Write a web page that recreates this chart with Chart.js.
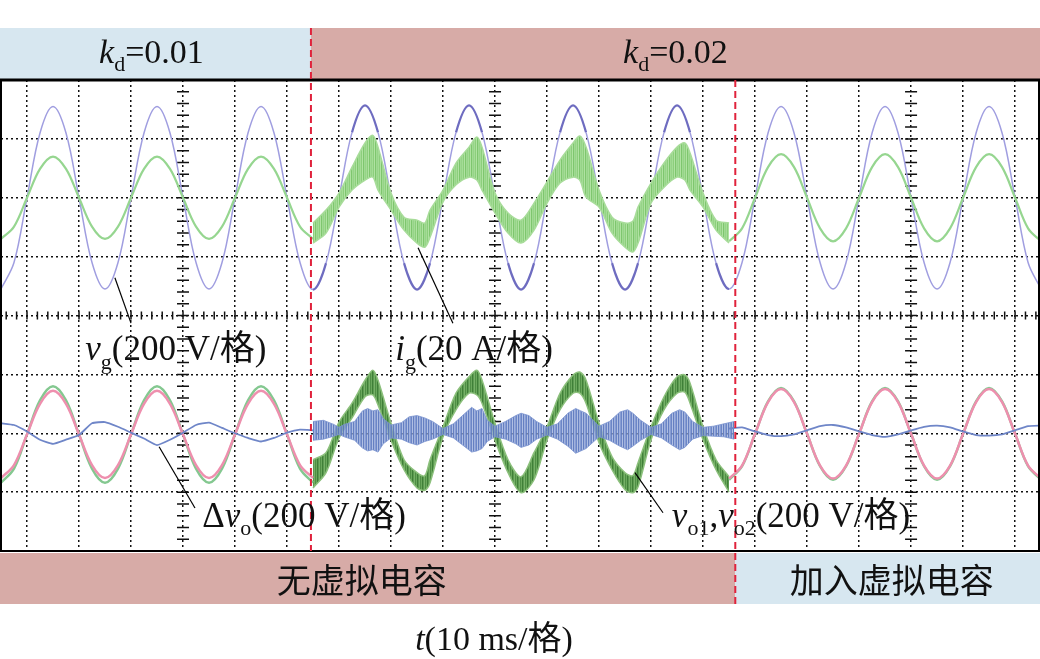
<!DOCTYPE html>
<html lang="zh">
<head>
<meta charset="utf-8">
<title>kd / virtual capacitor scope capture</title>
<script src="https://cdn.jsdelivr.net/npm/chart.js@4.4.1/dist/chart.umd.min.js"></script>
<style>
  html, body { margin: 0; padding: 0; background: #fff; }
  canvas { display: block; }
</style>
</head>
<body>
<canvas id="scope" width="1040" height="659"></canvas>
<script>
// all values in scope divisions, time in ms (10 ms / division)
// top channel is centred on +2 div, bottom channel on -2 div

const tSine = [
  -5, -2.5, 0, 2.5, 5, 7.5, 10, 12.5,
  15, 17.5, 20, 22.5, 25, 27.5, 30, 32.5,
  35, 37.5, 40, 42.5, 45, 47.5, 50, 52.5,
  55, 57.5, 60, 62.5, 65, 67.5, 70, 72.5,
  75, 77.5, 80, 82.5, 85, 87.5, 90, 92.5,
  95, 97.5, 100, 102.5, 105, 107.5, 110, 112.5,
  115, 117.5, 120, 122.5, 125, 127.5, 130, 132.5,
  135, 137.5, 140, 142.5, 145, 147.5, 150, 152.5,
  155, 157.5, 160, 162.5, 165, 167.5, 170, 172.5,
  175, 177.5, 180, 182.5, 185, 187.5, 190, 192.5,
  195
];

// grid voltage vg (200 V/div)
const vg = [
  0.45, 0.90, 2.00, 3.10, 3.55, 3.10, 2.00, 0.90,
  0.45, 0.90, 2.00, 3.10, 3.55, 3.10, 2.00, 0.90,
  0.45, 0.90, 2.00, 3.10, 3.55, 3.10, 2.00, 0.90,
  0.44, 0.89, 2.00, 3.11, 3.57, 3.11, 2.00, 0.89,
  0.44, 0.89, 2.00, 3.11, 3.57, 3.11, 2.00, 0.89,
  0.44, 0.89, 2.00, 3.11, 3.57, 3.11, 2.00, 0.89,
  0.44, 0.89, 2.00, 3.11, 3.57, 3.11, 2.00, 0.89,
  0.45, 0.90, 2.00, 3.10, 3.55, 3.10, 2.00, 0.90,
  0.45, 0.90, 2.00, 3.10, 3.55, 3.10, 2.00, 0.90,
  0.45, 0.90, 2.00, 3.10, 3.55, 3.10, 2.00, 0.90,
  0.45
];

// grid current ig (20 A/div), clean parts only
const ig = [
  1.30, 1.51, 2.00, 2.49, 2.70, 2.49, 2.00, 1.51,
  1.30, 1.51, 2.00, 2.49, 2.70, 2.49, 2.00, 1.51,
  1.30, 1.51, 2.00, 2.49, 2.70, 2.49, 2.00, 1.51,
  1.30, null, null, null, null, null, null, null,
  null, null, null, null, null, null, null, null,
  null, null, null, null, null, null, null, null,
  null, null, null, null, null, null, null, null,
  1.26, 1.48, 2.00, 2.52, 2.74, 2.52, 2.00, 1.48,
  1.26, 1.48, 2.00, 2.52, 2.74, 2.52, 2.00, 1.48,
  1.26, 1.48, 2.00, 2.52, 2.74, 2.52, 2.00, 1.48,
  1.26
];

// output voltages vo1 (pink) and vo2 (green), clean parts only
const vo1 = [
  -2.76, -2.54, -2.02, -1.50, -1.28, -1.50, -2.02, -2.54,
  -2.76, -2.54, -2.02, -1.50, -1.28, -1.50, -2.02, -2.54,
  -2.76, -2.54, -2.02, -1.50, -1.28, -1.50, -2.02, -2.54,
  -2.76, null, null, null, null, null, null, null,
  null, null, null, null, null, null, null, null,
  null, null, null, null, null, null, null, null,
  null, null, null, null, null, null, null, null,
  -2.77, -2.55, -2.01, -1.47, -1.25, -1.47, -2.01, -2.55,
  -2.77, -2.55, -2.01, -1.47, -1.25, -1.47, -2.01, -2.55,
  -2.77, -2.55, -2.01, -1.47, -1.25, -1.47, -2.01, -2.55,
  -2.77
];
const vo2 = [
  -2.84, -2.60, -2.02, -1.44, -1.20, -1.44, -2.02, -2.60,
  -2.84, -2.60, -2.02, -1.44, -1.20, -1.44, -2.02, -2.60,
  -2.84, -2.60, -2.02, -1.44, -1.20, -1.44, -2.02, -2.60,
  -2.84, null, null, null, null, null, null, null,
  null, null, null, null, null, null, null, null,
  null, null, null, null, null, null, null, null,
  null, null, null, null, null, null, null, null,
  -2.79, -2.56, -2.01, -1.46, -1.23, -1.46, -2.01, -2.56,
  -2.79, -2.56, -2.01, -1.46, -1.23, -1.46, -2.01, -2.56,
  -2.79, -2.56, -2.01, -1.46, -1.23, -1.46, -2.01, -2.56,
  -2.79
];

// difference voltage Δvo, clean parts only
const dvo = [
  -1.83, -1.86, -1.97, -2.11, -2.18, -2.11, -2.03, -1.83,
  -1.81, -1.89, -1.99, -2.09, -2.20, -2.11, -1.99, -1.86,
  -1.82, -1.91, -2.00, -2.08, -2.14, -2.08, -1.99, -1.94,
  -1.95, null, null, null, null, null, null, null,
  null, null, null, null, null, null, null, null,
  null, null, null, null, null, null, null, null,
  null, null, null, null, null, null, null, null,
  -1.92, -1.90, -1.97, -2.03, -2.05, -2.02, -1.95, -1.88,
  -1.86, -1.90, -1.97, -2.03, -2.06, -2.02, -1.95, -1.89,
  -1.87, -1.90, -1.97, -2.03, -2.04, -2.02, -1.95, -1.88,
  -1.87
];

// kd = 0.02 without virtual capacitor: ripple envelopes
const tBand = [
  55, 57.5, 60, 62.5, 65, 66.5, 67.5, 70, 72.5, 75,
  76.5, 77.5, 80, 82.5, 85, 86.5, 87.5, 90, 92.5, 95,
  97.5, 100, 102.5, 105, 106.3, 107.5, 110, 112.5, 115, 116.5,
  117.5, 120, 122.5, 125, 126.5, 127.5, 130, 132.5, 135
];
const igUpper = [
  1.57, 1.79, 2.08, 2.52, 2.93, 3.06, 2.86, 2.08, 1.67, 1.62,
  1.57, 1.79, 2.13, 2.59, 2.86, 3.03, 2.86, 2.08, 1.74, 1.62,
  1.91, 2.27, 2.64, 2.93, 3.05, 2.86, 2.13, 1.67, 1.57, 1.60,
  1.84, 2.25, 2.59, 2.86, 2.93, 2.76, 2.08, 1.62, 1.57
];
const igLower = [
  1.23, 1.40, 1.84, 2.13, 2.30, 2.35, 2.13, 1.79, 1.45, 1.23,
  1.16, 1.33, 1.93, 2.22, 2.35, 2.30, 2.13, 1.74, 1.40, 1.23,
  1.45, 1.91, 2.25, 2.35, 2.30, 2.01, 1.84, 1.40, 1.16, 1.08,
  1.23, 1.91, 2.18, 2.35, 2.30, 2.13, 1.84, 1.45, 1.23
];
const voUpper = [
  -2.45, -2.33, -1.81, -1.49, -1.10, -0.93, -1.10, -1.83, -2.45, -2.67,
  -2.72, -2.45, -1.89, -1.32, -1.04, -0.93, -1.10, -1.83, -2.45, -2.74,
  -2.33, -1.89, -1.32, -1.01, -0.96, -1.10, -1.83, -2.40, -2.67, -2.72,
  -2.50, -1.89, -1.38, -1.04, -1.01, -1.15, -1.89, -2.45, -2.74
];
const voLower = [
  -2.93, -2.67, -2.08, -1.74, -1.38, -1.35, -1.52, -2.12, -2.62, -2.93,
  -2.97, -2.84, -2.06, -1.60, -1.32, -1.35, -1.49, -2.12, -2.67, -3.01,
  -2.79, -2.11, -1.60, -1.32, -1.32, -1.49, -2.16, -2.62, -2.96, -3.01,
  -2.91, -2.11, -1.60, -1.32, -1.30, -1.49, -2.11, -2.62, -3.00
];

const tNoise = [
  55, 57, 59, 60, 61, 63, 64.5, 65.5, 66.5, 67.5,
  68.5, 70, 72, 73.5, 75, 76.5, 78, 80, 82, 84.5,
  85.5, 86.5, 87.5, 88.5, 90, 92, 94, 95, 96.5, 98,
  100, 102, 104, 105.5, 106.5, 107.5, 110, 112, 114, 115.5,
  116.5, 118, 120, 122, 124, 125.5, 126.5, 128, 130, 132,
  134, 136
];
const dvUpper = [
  -1.80, -1.78, -1.85, -1.90, -1.85, -1.80, -1.62, -1.58, -1.62, -1.60,
  -1.75, -1.86, -1.82, -1.72, -1.70, -1.74, -1.80, -1.92, -1.84, -1.64,
  -1.56, -1.62, -1.58, -1.78, -1.88, -1.80, -1.70, -1.66, -1.70, -1.80,
  -1.90, -1.84, -1.66, -1.58, -1.62, -1.66, -1.88, -1.80, -1.64, -1.60,
  -1.66, -1.78, -1.90, -1.84, -1.66, -1.60, -1.64, -1.80, -1.90, -1.88,
  -1.84, -1.80
];
const dvLower = [
  -2.12, -2.10, -2.05, -2.02, -2.06, -2.12, -2.25, -2.30, -2.28, -2.32,
  -2.18, -2.08, -2.10, -2.16, -2.20, -2.14, -2.10, -2.02, -2.08, -2.25,
  -2.32, -2.30, -2.26, -2.14, -2.06, -2.10, -2.18, -2.24, -2.20, -2.10,
  -2.03, -2.10, -2.22, -2.34, -2.30, -2.26, -2.06, -2.12, -2.22, -2.28,
  -2.22, -2.12, -2.02, -2.08, -2.20, -2.28, -2.24, -2.10, -2.04, -2.05,
  -2.06, -2.10
];

// grid lines, tick axes and the two switching instants
const gridT = [0, 10, 20, 30, 40, 50, 60, 70, 80, 90, 100, 110, 120, 130, 140, 150, 160, 170, 180, 190];
const gridV = [-3, -2, -1, 0, 1, 2, 3];
const axisT = [30, 90, 170];
const tSwitch = [54.6, 136.2];

const SERIF = '"Liberation Serif", "Times New Roman", "Noto Sans CJK SC", serif';
const CJK = '"Noto Sans CJK SC", sans-serif';

const pts = (xs, ys) => xs.map((x, i) => ({ x: x, y: ys[i] }));

function stripes(cols) {
  const c = document.createElement('canvas');
  c.width = cols.length; c.height = 1;
  const g = c.getContext('2d');
  cols.forEach((col, i) => { g.fillStyle = col; g.fillRect(i, 0, 1, 1); });
  return g.createPattern(c, 'repeat');
}
const igFill = stripes(['#a4dc96', '#8ccf7c', '#b0e2a2', '#7ec66e', '#a0da92', '#96d488']);
const voFill = stripes(['#4f8f45', '#6aa85c', '#3f7f38', '#5c9a50', '#76b068']);
const dvFill = stripes(['rgba(122,146,206,0.9)', 'rgba(100,128,196,0.95)', 'rgba(150,170,218,0.75)', 'rgba(92,120,190,0.95)', 'rgba(136,158,212,0.8)']);

// text with italic / subscript runs
function runFont(p, size) {
  const s = p.sub ? Math.round(size * 0.64) : size;
  return (p.it ? 'italic ' : '') + s + 'px ' + SERIF;
}
function drawRich(ctx, parts, x, y, size, align) {
  let w = 0;
  parts.forEach(p => { ctx.font = runFont(p, size); p.w = ctx.measureText(p.t).width; w += p.w; });
  let cx = align === 'center' ? x - w / 2 : x;
  parts.forEach(p => {
    ctx.font = runFont(p, size);
    ctx.fillText(p.t, cx, y + (p.sub ? size * 0.24 : 0));
    cx += p.w;
  });
}

const notes = [
  { parts: [{ t: 'v', it: true }, { t: 'g', sub: true }, { t: '(200 V/格)' }], at: [11.2, -0.76], lead: [[16.9, 0.64], [20, -0.13]] },
  { parts: [{ t: 'i', it: true }, { t: 'g', sub: true }, { t: '(20 A/格)' }], at: [70.8, -0.76], lead: [[75.2, 1.15], [81.9, -0.13]] },
  { parts: [{ t: 'Δ' }, { t: 'v', it: true }, { t: 'o', sub: true }, { t: '(200 V/格)' }], at: [33.7, -3.59], lead: [[25.4, -2.23], [32.3, -3.27]] },
  { parts: [{ t: 'v', it: true }, { t: 'o1', sub: true }, { t: ',' }, { t: 'v', it: true }, { t: 'o2', sub: true }, { t: '(200 V/格)' }], at: [124, -3.59], lead: [[116.9, -2.67], [122.3, -3.35]] }
];

const scopeDecor = {
  id: 'scopeDecor',
  beforeDraw(chart) {
    const { ctx, chartArea: a, scales: { x } } = chart;
    const W = chart.width;
    const xs0 = x.getPixelForValue(tSwitch[0]);
    const xs1 = x.getPixelForValue(tSwitch[1]);
    ctx.save();
    ctx.fillStyle = '#fff';
    ctx.fillRect(0, 0, W, chart.height);
    // top strip: kd
    ctx.fillStyle = '#d7e7f0';
    ctx.fillRect(0, a.top - 52, xs0, 52);
    ctx.fillStyle = '#d7aba7';
    ctx.fillRect(xs0, a.top - 52, W - xs0, 52);
    // bottom strip: virtual capacitor
    ctx.fillStyle = '#d7aba7';
    ctx.fillRect(0, a.bottom + 2, xs1, 51);
    ctx.fillStyle = '#d7e7f0';
    ctx.fillRect(xs1, a.bottom + 2, W - xs1, 51);

    ctx.fillStyle = '#111';
    ctx.textAlign = 'left';
    ctx.textBaseline = 'alphabetic';
    drawRich(ctx, [{ t: 'k', it: true }, { t: 'd', sub: true }, { t: '=0.01' }], xs0 / 2 - 4, a.top - 17, 34, 'center');
    drawRich(ctx, [{ t: 'k', it: true }, { t: 'd', sub: true }, { t: '=0.02' }], (xs0 + W) / 2, a.top - 17, 34, 'center');
    ctx.font = '34px ' + CJK;
    ctx.textAlign = 'center';
    ctx.textBaseline = 'middle';
    ctx.fillText('无虚拟电容', xs1 / 2 - 6, a.bottom + 29);
    ctx.fillText('加入虚拟电容', (xs1 + W) / 2 + 4, a.bottom + 29);
    ctx.textAlign = 'left';
    ctx.textBaseline = 'alphabetic';
    drawRich(ctx, [{ t: 't', it: true }, { t: '(10 ms/格)' }], W / 2 - 26, a.bottom + 99, 34, 'center');
    ctx.restore();
  },
  beforeDatasetsDraw(chart) {
    const { ctx, scales: { x, y } } = chart;
    ctx.save();
    ctx.strokeStyle = '#111';
    ctx.lineWidth = 1.5;
    ctx.beginPath();
    const y0 = y.getPixelForValue(0);
    for (let t = -4; t < 195; t += 2) {
      const px = x.getPixelForValue(t);
      ctx.moveTo(px, y0 - 4); ctx.lineTo(px, y0 + 4);
    }
    axisT.forEach(t => {
      const px = x.getPixelForValue(t);
      for (let v = -3.8; v < 3.9; v += 0.2) {
        const py = y.getPixelForValue(v);
        ctx.moveTo(px - 6, py); ctx.lineTo(px + 6, py);
      }
    });
    ctx.stroke();
    ctx.restore();
  },
  afterDraw(chart) {
    const { ctx, chartArea: a, scales: { x, y } } = chart;
    ctx.save();
    // frame
    ctx.strokeStyle = '#000';
    ctx.lineWidth = 2;
    ctx.strokeRect(a.left, a.top, a.right - a.left, a.bottom - a.top);
    ctx.lineWidth = 3;
    ctx.beginPath(); ctx.moveTo(0, a.top); ctx.lineTo(chart.width, a.top); ctx.stroke();

    // switching instants
    ctx.strokeStyle = '#e0223c';
    ctx.lineWidth = 2;
    ctx.setLineDash([7, 4]);
    const xs0 = x.getPixelForValue(tSwitch[0]);
    const xs1 = x.getPixelForValue(tSwitch[1]);
    ctx.beginPath();
    ctx.moveTo(xs0, a.top - 52); ctx.lineTo(xs0, a.bottom);
    ctx.moveTo(xs1, a.top); ctx.lineTo(xs1, a.bottom + 53);
    ctx.stroke();
    ctx.setLineDash([]);

    // trace labels with leader lines
    ctx.strokeStyle = '#000';
    ctx.lineWidth = 1.2;
    ctx.fillStyle = '#111';
    ctx.textAlign = 'left';
    ctx.textBaseline = 'alphabetic';
    notes.forEach(n => {
      ctx.beginPath();
      ctx.moveTo(x.getPixelForValue(n.lead[0][0]), y.getPixelForValue(n.lead[0][1]));
      ctx.lineTo(x.getPixelForValue(n.lead[1][0]), y.getPixelForValue(n.lead[1][1]));
      ctx.stroke();
      drawRich(ctx, n.parts, x.getPixelForValue(n.at[0]), y.getPixelForValue(n.at[1]), 35, 'left');
    });
    ctx.restore();
  }
};

const inBand = t => t >= tSwitch[0] && t <= tSwitch[1];
const nearPeak = c => inBand(c.p0.parsed.x) && inBand(c.p1.parsed.x) &&
  Math.abs(c.p0.parsed.y - 2) > 1.3 || (inBand(c.p0.parsed.x) && inBand(c.p1.parsed.x) && Math.abs(c.p1.parsed.y - 2) > 1.3);

const datasets = [
  { label: 'Δvo', data: pts(tSine, dvo), borderColor: '#6f86c8', borderWidth: 1.8, tension: 0.15, order: 0 },
  { label: 'Δvo low', data: pts(tNoise, dvLower), borderColor: 'rgba(123,147,207,0.8)', borderWidth: 1, tension: 0, order: 1 },
  { label: 'Δvo high', data: pts(tNoise, dvUpper), borderColor: 'rgba(123,147,207,0.8)', borderWidth: 1, tension: 0, fill: '-1', backgroundColor: dvFill, order: 2 },
  { label: 'vo1', data: pts(tSine, vo1), borderColor: '#ee8fae', borderWidth: 2.5, tension: 0.35, order: 3 },
  { label: 'vo2', data: pts(tSine, vo2), borderColor: '#84c890', borderWidth: 2.5, tension: 0.35, order: 4 },
  { label: 'vo low', data: pts(tBand, voLower), borderColor: '#8cc07c', borderWidth: 1.5, tension: 0.3, order: 5 },
  { label: 'vo high', data: pts(tBand, voUpper), borderColor: '#8cc07c', borderWidth: 1.5, tension: 0.3, fill: '-1', backgroundColor: voFill, order: 6 },
  { label: 'ig low', data: pts(tBand, igLower), borderColor: '#a8dc9a', borderWidth: 1.5, tension: 0.3, order: 7 },
  { label: 'ig high', data: pts(tBand, igUpper), borderColor: '#a8dc9a', borderWidth: 1.5, tension: 0.3, fill: '-1', backgroundColor: igFill, order: 8 },
  { label: 'ig', data: pts(tSine, ig), borderColor: '#96d690', borderWidth: 2.2, tension: 0.35, order: 9 },
  {
    label: 'vg', data: pts(tSine, vg), borderColor: '#a09ee0', borderWidth: 1.5, tension: 0.35, order: 10,
    segment: {
      borderColor: c => nearPeak(c) ? '#6e6cc0' : undefined,
      borderWidth: c => nearPeak(c) ? 2.2 : undefined
    }
  }
];

new Chart(document.getElementById('scope'), {
  type: 'line',
  data: { datasets: datasets },
  options: {
    responsive: false,
    animation: false,
    events: [],
    layout: { padding: { left: 1, right: 1, top: 80, bottom: 108 } },
    elements: { point: { radius: 0 }, line: { fill: false } },
    plugins: { legend: { display: false }, tooltip: { enabled: false } },
    scales: {
      x: {
        type: 'linear', min: -5, max: 194.6,
        afterBuildTicks: s => { s.ticks = gridT.map(v => ({ value: v })); },
        ticks: { display: false },
        grid: { color: '#111', lineWidth: 1.5, drawTicks: false },
        border: { display: false, dash: [2, 3] }
      },
      y: {
        type: 'linear', min: -4, max: 4,
        afterBuildTicks: s => { s.ticks = gridV.map(v => ({ value: v })); },
        ticks: { display: false },
        grid: { color: '#111', lineWidth: 1.5, drawTicks: false },
        border: { display: false, dash: [2, 3] }
      }
    }
  },
  plugins: [scopeDecor]
});
</script>
</body>
</html>
